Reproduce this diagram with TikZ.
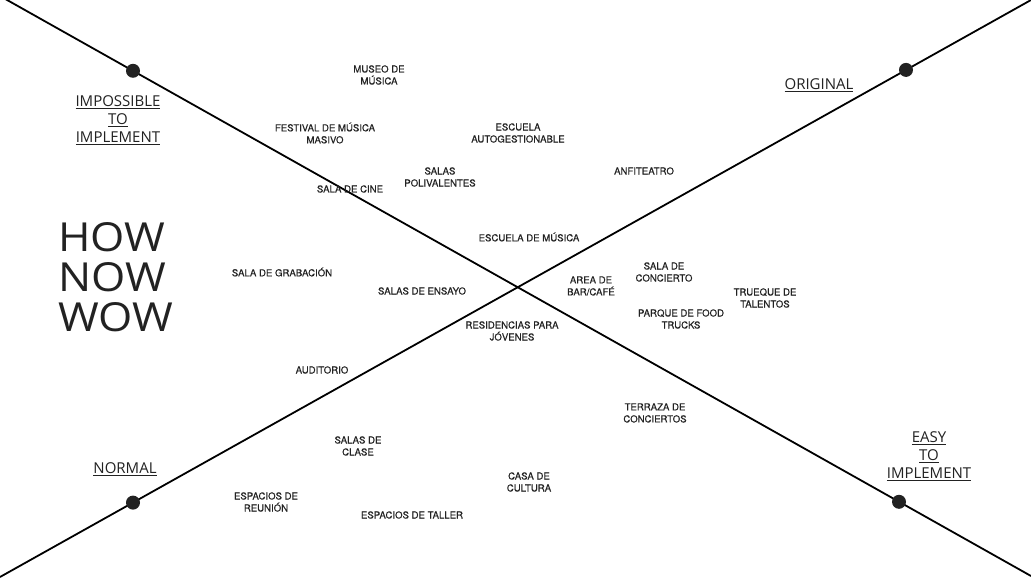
\documentclass[tikz,border=0pt]{standalone}
\usepackage{fontspec}
\setmainfont{TeX Gyre Heros}[FakeBold=0.4]
\newfontfamily\headfont{Open Sans}
\newfontfamily\titlefont{Open Sans}[FakeStretch=1.1]
\usetikzlibrary{positioning}
\definecolor{inkgray}{HTML}{222222}

\begin{document}
\begin{tikzpicture}[x=1pt,y=-1pt,
    idea/.style={align=center,text=inkgray,inner sep=0pt,font=\fontsize{9.6}{12}\selectfont},
    axislabel/.style={align=center,text=inkgray,inner sep=0pt,font=\headfont\fontsize{15}{18}\selectfont},
    axisline/.style={line width=1.8pt,black},
    enddot/.style={circle,fill=inkgray,inner sep=0pt,minimum size=14pt}]
    \useasboundingbox[fill=white] (0,0) rectangle (1031,578);

    % Ends of the two axes
    \coordinate (topleft) at (0,-4);
    \coordinate (botright) at (1031,576);
    \coordinate (botleft) at (0,577);
    \coordinate (topright) at (1031,0);

    % Axes
    \draw[axisline] (topleft) -- (botright);
    \draw[axisline] (botleft) -- (topright);

    % Dots on the axes
    \node[enddot] (impdot) at (133,70.8) {};
    \node[enddot] (easydot) at (899,501.8) {};
    \node[enddot] (normdot) at (133,502.6) {};
    \node[enddot] (origdot) at (906,69.9) {};

    % Axis labels
    \node[axislabel] (impossible) at (118,120) {\underline{IMPOSSIBLE}\\\underline{TO}\\\underline{IMPLEMENT}};
    \node[axislabel] (easy) at (929,456) {\underline{EASY}\\\underline{TO}\\\underline{IMPLEMENT}};
    \node[axislabel] (original) at (819,85) {\underline{ORIGINAL}};
    \node[axislabel] (normal) at (125,469) {\underline{NORMAL}};

    % Title
    \node[anchor=west,align=left,text=inkgray,inner sep=0pt,
          font=\titlefont\fontsize{40}{40}\selectfont] (title) at (58,277) {HOW\\NOW\\WOW};

    % Ideas
    \node[idea] (museo) at (379,75) {MUSEO DE\\MÚSICA};
    \node[idea] (festival) at (325,133) {FESTIVAL DE MÚSICA\\MASIVO};
    \node[idea] (autoges) at (518,133) {ESCUELA\\AUTOGESTIONABLE};
    \node[idea] (polival) at (440,177) {SALAS\\POLIVALENTES};
    \node[idea] (cine) at (350,189) {SALA DE CINE};
    \node[idea] (anfi) at (644,171) {ANFITEATRO};
    \node[idea] (escuela) at (529,237) {ESCUELA DE MÚSICA};
    \node[idea] (grabacion) at (282,272) {SALA DE GRABACIÓN};
    \node[idea] (ensayo) at (422,291) {SALAS DE ENSAYO};
    \node[idea] (bar) at (591,286) {AREA DE\\BAR/CAFÉ};
    \node[idea] (concierto) at (664,272) {SALA DE\\CONCIERTO};
    \node[idea] (trueque) at (765,298) {TRUEQUE DE\\TALENTOS};
    \node[idea] (food) at (681,319) {PARQUE DE FOOD\\TRUCKS};
    \node[idea] (residencias) at (512,331) {RESIDENCIAS PARA\\JÓVENES};
    \node[idea] (auditorio) at (322,370) {AUDITORIO};
    \node[idea] (terraza) at (655,413) {TERRAZA DE\\CONCIERTOS};
    \node[idea] (clase) at (358,446) {SALAS DE\\CLASE};
    \node[idea] (casa) at (529,482) {CASA DE\\CULTURA};
    \node[idea] (reunion) at (266,502) {ESPACIOS DE\\REUNIÓN};
    \node[idea] (taller) at (412,515) {ESPACIOS DE TALLER};
\end{tikzpicture}
\end{document}
